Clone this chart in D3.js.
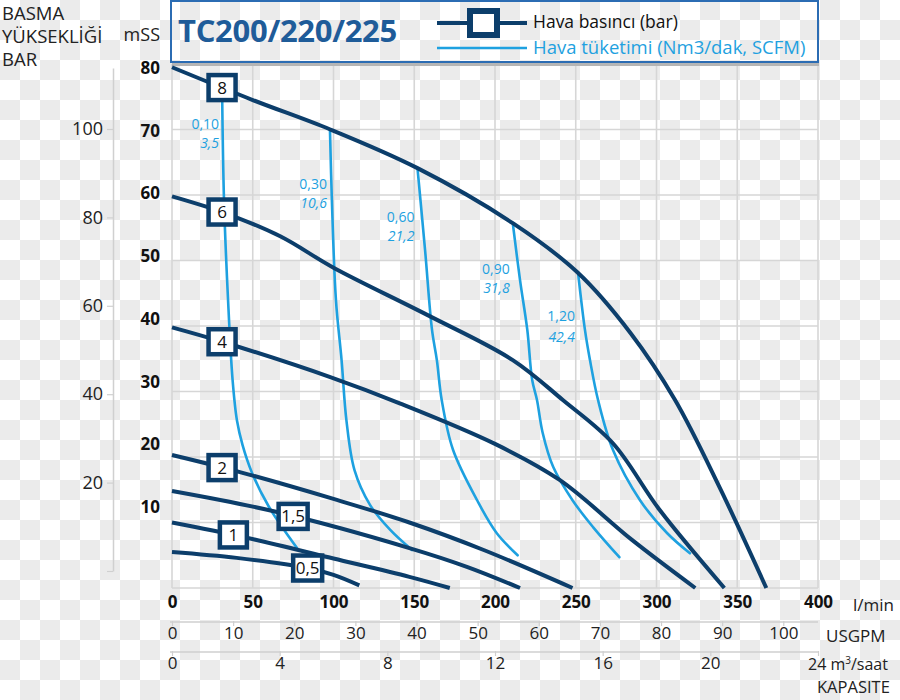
<!DOCTYPE html>
<html><head><meta charset="utf-8">
<script src="https://cdn.jsdelivr.net/npm/d3@7"></script>
<style>
body{margin:0;background:#fff;}
svg{display:block;font-family:'Open Sans',sans-serif;}
</style>
</head><body>
<svg id="chart" width="900" height="700"></svg>
<script>
// ---------- data ----------
const flowTicks = [0, 50, 100, 150, 200, 250, 300, 350, 400];          // l/min
const usgpmTicks = [0, 10, 20, 30, 40, 50, 60, 70, 80, 90, 100];        // USGPM
const m3Ticks = [0, 4, 8, 12, 16, 20, 24];                               // m3/saat
const mssTicks = [10, 20, 30, 40, 50, 60, 70, 80];                       // mSS
const barTicks = [0, 20, 40, 60, 80, 100];                               // left scale
const pressureNames = ["8", "6", "4", "2", "1,5", "1", "0,5"];
const pressureLabelFlow = [31, 31, 31, 31, 75, 38, 84];
const press8 = [[0,79.5],[50,74.5],[98,70],[152,64.1],[211,55.7],[251,48.2],[284,38.9],[311.5,28.7],[339,15.4],[368,0]];
const press6 = [[0,59.8],[31,57.4],[67,53.7],[100,48.9],[158,41.7],[211,34.8],[242,28.7],[273,22.1],[302,11.9],[342,0]];
const press4 = [[0,39.8],[31,37.6],[98,32.2],[141,28.2],[200,22],[240,16.5],[285,7.3],[324,0]];
const press2 = [[0,20.3],[42,17.7],[100,13.6],[147,10],[193,5.8],[248,0]];
const press15 = [[0,14.8],[65,11.6],[147,6.1],[183,3.2],[215.5,0]];
const press1 = [[0,10],[44,7.8],[100,4.5],[147,1.7],[172,0]];
const press05 = [[0,5.5],[40,4.6],[84,3.05],[100,2.0],[116,0.4]];
const pressureSeries = [press8, press6, press4, press2, press15, press1, press05];

const airNm3 = ["0,10", "0,30", "0,60", "0,90", "1,20"];
const airScfm = ["3,5", "10,6", "21,2", "31,8", "42,4"];
const air010 = [[31,76.4],[32.2,59.2],[34.7,44],[37.5,31.8],[40.2,25.6],[43.7,21.8],[49.5,17.6],[60,12.4],[77.4,6.1]];
const air030 = [[97.8,70],[99,59.2],[101.5,44],[105,34.8],[108,25.6],[113,18],[122.6,12.7],[135,8.9],[148.6,5.8]];
const air060 = [[152,64.1],[156.7,51.6],[161,39.4],[164,34.8],[167,28.7],[174,21.1],[188.9,13.4],[201,8.4],[214,5]];
const air090 = [[211,55.7],[215.5,47],[220,39.4],[223,31.8],[226,28.7],[229.5,23.7],[236,18.5],[248,13.4],[260.7,9.3],[277,4.7]];
const air120 = [[251.4,48.2],[255.7,39.4],[258.8,34.8],[263.8,28.7],[273,21.1],[289.8,13.4],[306.5,8.4],[320.7,5.3]];
const airSeries = [air010, air030, air060, air090, air120];

// ---------- setup ----------
const svg = d3.select("#chart");
const dark = "#0c3e6b", light = "#1ea1e0", grid = "#d6d6d6";
const FONT = "'Open Sans',sans-serif";

// checkerboard background (the reference is a transparent image shown on a checkerboard)
const cells = [];
for (let r = 0; r < 35; r++) for (let c = 0; c < 45; c++) if ((r + c) % 2 === 1) cells.push([c, r]);
svg.append("rect").attr("width", 900).attr("height", 700).attr("fill", "#ffffff");
svg.append("g").selectAll("rect").data(cells).join("rect")
  .attr("x", d => d[0] * 20).attr("y", d => d[1] * 20).attr("width", 20).attr("height", 20)
  .style("fill", "#ebebeb");

const x = d3.scaleLinear().domain([0, 400]).range([172, 818]);
const y = d3.scaleLinear().domain([0, 80]).range([588, 64]);
const yLab = d3.scaleLinear().domain([0, 80]).range([570, 68]);
const yBar = d3.scaleLinear().domain([0, 113.8]).range([571, 68]);

// grid
svg.append("g").selectAll("line").data(flowTicks).join("line")
  .attr("x1", d => x(d)).attr("x2", d => x(d)).attr("y1", y(80)).attr("y2", y(0))
  .attr("stroke", grid).attr("stroke-width", 1.6);
svg.append("g").selectAll("line").data(d3.range(0, 81, 10)).join("line")
  .attr("x1", x(0)).attr("x2", x(400)).attr("y1", d => y(d)).attr("y2", d => y(d))
  .attr("stroke", grid).attr("stroke-width", 1.6);

// title box
svg.append("rect").attr("x", 172).attr("y", 63).attr("width", 647).attr("height", 3).attr("fill", "#b5b5b5");
svg.append("rect").attr("x", 171).attr("y", 1).attr("width", 647).attr("height", 61)
  .attr("fill", "none").attr("stroke", "#2b6cb3").attr("stroke-width", 2);
svg.append("text").attr("x", 178).attr("y", 42).text("TC200/220/225")
  .attr("font-size", 31).attr("font-weight", "bold").attr("fill", "#1f5c99").attr("letter-spacing", -0.3);

// legend
svg.append("line").attr("x1", 437).attr("x2", 527).attr("y1", 23).attr("y2", 23).attr("stroke", dark).attr("stroke-width", 4);
svg.append("rect").attr("x", 470).attr("y", 11).attr("width", 27).attr("height", 24)
  .attr("fill", "#fff").attr("stroke", dark).attr("stroke-width", 6);
svg.append("text").attr("x", 533).attr("y", 28).text("Hava basıncı (bar)").attr("font-size", 17.5).attr("fill", "#111");
svg.append("line").attr("x1", 437).attr("x2", 527).attr("y1", 48).attr("y2", 48).attr("stroke", light).attr("stroke-width", 2.5);
svg.append("text").attr("x", 533).attr("y", 54).text("Hava tüketimi (Nm3/dak, SCFM)").attr("font-size", 18.5).attr("fill", light);

// left titles
const lt = svg.append("g").attr("font-size", 18.5).attr("fill", "#222");
lt.append("text").attr("x", 2).attr("y", 20).text("BASMA");
lt.append("text").attr("x", 2).attr("y", 43).text("YÜKSEKLİĞİ");
lt.append("text").attr("x", 2).attr("y", 66).text("BAR");
lt.append("text").attr("x", 160).attr("y", 41).attr("text-anchor", "end").attr("font-size", 18).text("mSS");

// BAR axis
const barAxis = svg.append("g").attr("transform", "translate(113,0)")
  .call(d3.axisLeft(yBar).tickValues(barTicks).tickSize(6).tickSizeOuter(0).tickPadding(4)
    .tickFormat(d => d === 0 ? "" : d));
barAxis.select(".domain").attr("stroke", "#d0d0d0").attr("stroke-width", 1.5);
barAxis.selectAll(".tick line").attr("stroke", "#d0d0d0").attr("stroke-width", 1.2);
barAxis.selectAll(".tick text").attr("font-size", 18).attr("fill", "#222").attr("font-family", FONT);

// mSS labels
const mssAxis = svg.append("g").attr("transform", "translate(160,0)")
  .call(d3.axisLeft(yLab).tickValues(mssTicks).tickSize(0).tickPadding(0));
mssAxis.select(".domain").remove();
mssAxis.selectAll(".tick text").attr("font-size", 17).attr("font-weight", "bold").attr("fill", "#111").attr("font-family", FONT);

// flow axis (l/min)
const fAxis = svg.append("g").attr("transform", "translate(0,596)")
  .call(d3.axisBottom(x).tickValues(flowTicks).tickSize(0).tickPadding(0));
fAxis.select(".domain").remove();
fAxis.selectAll(".tick text").attr("font-size", 17).attr("font-weight", "bold").attr("fill", "#111").attr("font-family", FONT);
svg.append("text").attr("x", 853).attr("y", 611).text("l/min").attr("font-size", 17).attr("fill", "#222");

// USGPM axis
const usX = d3.scaleLinear().domain([0, 400 / 3.785]).range([172, 818]);
const uLine = svg.append("g").attr("transform", "translate(0,622)")
  .call(d3.axisTop(usX).tickValues(usgpmTicks).tickSize(4).tickSizeOuter(0).tickFormat(""));
uLine.select(".domain").attr("stroke", "#cfcfcf").attr("stroke-width", 1.5).attr("d", "M170,0H818");
uLine.selectAll(".tick line").attr("stroke", "#cfcfcf").attr("stroke-width", 1.2).attr("y2", 4).attr("y1", -1);
const uAxis = svg.append("g").attr("transform", "translate(0,627)")
  .call(d3.axisBottom(usX).tickValues(usgpmTicks).tickSize(0).tickPadding(0));
uAxis.select(".domain").remove();
uAxis.selectAll(".tick text").attr("font-size", 17).attr("fill", "#222").attr("font-family", FONT);
svg.append("text").attr("x", 826).attr("y", 642).text("USGPM").attr("font-size", 17).attr("fill", "#222");

// m3/saat axis
const m3X = d3.scaleLinear().domain([0, 24]).range([172, 818]);
const mLine = svg.append("g").attr("transform", "translate(0,652)")
  .call(d3.axisTop(m3X).tickValues(m3Ticks).tickSize(4).tickSizeOuter(0).tickFormat(""));
mLine.select(".domain").attr("stroke", "#cfcfcf").attr("stroke-width", 1.5).attr("d", "M170,0H818");
mLine.selectAll(".tick line").attr("stroke", "#cfcfcf").attr("stroke-width", 1.2).attr("y2", 4).attr("y1", -1);
const mAxis = svg.append("g").attr("transform", "translate(0,657)")
  .call(d3.axisBottom(m3X).tickValues(m3Ticks.slice(0, -1)).tickSize(0).tickPadding(0));
mAxis.select(".domain").remove();
mAxis.selectAll(".tick text").attr("font-size", 17).attr("fill", "#222").attr("font-family", FONT);
const m3Last = svg.append("text").attr("x", 808).attr("y", 670).attr("font-size", 16).attr("fill", "#222");
m3Last.append("tspan").text(m3Ticks[m3Ticks.length - 1] + " m");
m3Last.append("tspan").text("3").attr("font-size", 10).attr("dy", -6);
m3Last.append("tspan").text("/saat").attr("dy", 6);
svg.append("text").attr("x", 817).attr("y", 693).text("KAPASITE").attr("font-size", 16.5).attr("fill", "#222");

// curves
const line = d3.line().x(d => x(d[0])).y(d => y(d[1])).curve(d3.curveCatmullRom.alpha(0.5));
svg.append("g").selectAll("path").data(airSeries).join("path")
  .attr("d", line).attr("fill", "none").attr("stroke", light).attr("stroke-width", 2.6).attr("stroke-linecap", "round");
svg.append("g").selectAll("path").data(pressureSeries).join("path")
  .attr("d", line).attr("fill", "none").attr("stroke", dark).attr("stroke-width", 4).attr("stroke-linecap", "butt");

// air labels
const airG = svg.append("g").attr("fill", light).attr("font-size", 14).attr("text-anchor", "end");
const airLabelY = [[124, 143], [184, 203], [217, 236], [269, 288], [316, 337]];
airSeries.forEach((s, i) => {
  const px = x(s[0][0]) - 3;
  airG.append("text").attr("x", px).attr("y", airLabelY[i][0] + 5).text(airNm3[i]);
  airG.append("text").attr("x", px).attr("y", airLabelY[i][1] + 5).attr("font-style", "italic").text(airScfm[i]);
});

// pressure label boxes
function interp(s, fx) {
  for (let i = 1; i < s.length; i++) {
    if (fx <= s[i][0]) {
      const t = (fx - s[i-1][0]) / (s[i][0] - s[i-1][0]);
      return s[i-1][1] + t * (s[i][1] - s[i-1][1]);
    }
  }
  return s[s.length - 1][1];
}
pressureSeries.forEach((s, i) => {
  const cx = x(pressureLabelFlow[i]), cy = y(interp(s, pressureLabelFlow[i]));
  const w = pressureNames[i].length > 1 ? 29 : 27, h = 25;
  const g = svg.append("g");
  g.append("rect").attr("x", cx - w / 2).attr("y", cy - h / 2).attr("width", w).attr("height", h)
    .attr("fill", "#fff").attr("stroke", dark).attr("stroke-width", 4.5);
  g.append("text").attr("x", cx).attr("y", cy + 6).attr("text-anchor", "middle")
    .attr("font-size", 17).attr("fill", "#111").text(pressureNames[i]);
});
</script>
</body></html>
